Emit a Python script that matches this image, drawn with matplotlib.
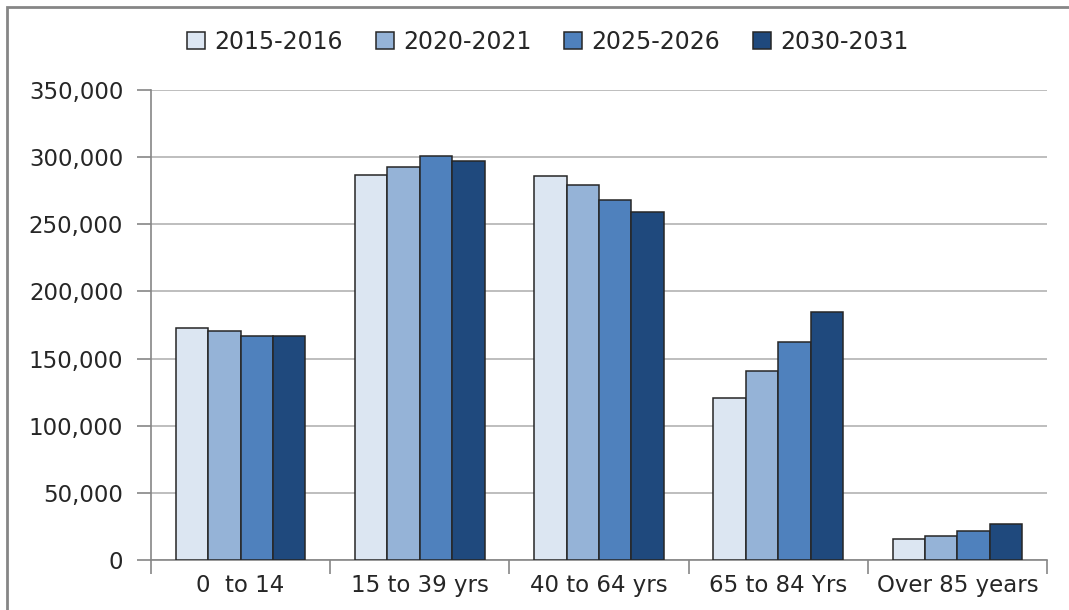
import numpy as np
import matplotlib.pyplot as plt
from matplotlib.patches import Rectangle

# population projections by age group
categories = ['0  to 14', '15 to 39 yrs', '40 to 64 yrs', '65 to 84 Yrs', 'Over 85 years']
periods = ['2015-2016', '2020-2021', '2025-2026', '2030-2031']
v_2015 = [173000, 287000, 286000, 120500, 15500]
v_2020 = [170500, 293000, 279500, 141000, 18000]
v_2025 = [166500, 301000, 268000, 162500, 21500]
v_2030 = [166500, 297000, 259000, 184500, 26500]
colors = ['#DCE6F2', '#95B3D7', '#4F81BD', '#1F497D']

plt.rcParams['font.family'] = ['DejaVu Sans']

fig = plt.figure(figsize=(10.69, 6.10), dpi=100)
ax = fig.add_axes([151 / 1069, 1 - 560 / 610, (1047 - 151) / 1069, (560 - 90) / 610])

# outer chart border (partly cut off like the original)
fig.patches.append(Rectangle((7 / 1069, -0.1), 1.2, 1 - 7 / 610 + 0.1,
                             transform=fig.transFigure, fill=False,
                             edgecolor='#868686', linewidth=2))

x = np.arange(len(categories))
w = 0.181
series = [v_2015, v_2020, v_2025, v_2030]
for i, (vals, lab) in enumerate(zip(series, periods)):
    ax.bar(x + (i - 1.5) * w, vals, width=w, color=colors[i], edgecolor='#262626',
           linewidth=1.1, label=lab, zorder=3)

ax.set_xlim(-0.5, len(categories) - 0.5)
ax.set_ylim(0, 350000)
ax.set_yticks(np.arange(0, 350001, 50000))
ax.set_yticklabels([f'{v:,}' for v in range(0, 350001, 50000)])
ax.yaxis.grid(True, color='#B3B3B3', linewidth=1.2, zorder=0)

ax.set_xticks(x)
ax.set_xticklabels(categories)
ax.set_xticks(np.arange(-0.5, len(categories), 1), minor=True)
ax.tick_params(axis='x', which='major', length=0, pad=10, labelsize=16.5, colors='#262626')
ax.tick_params(axis='x', which='minor', length=10, width=1.2, color='#868686')
ax.tick_params(axis='y', length=10, width=1.2, color='#868686', pad=10, labelsize=16.5,
               labelcolor='#262626')

for s in ['top', 'right']:
    ax.spines[s].set_visible(False)
for s in ['left', 'bottom']:
    ax.spines[s].set_color('#868686')
    ax.spines[s].set_linewidth(1.2)

fig.legend(loc='center', bbox_to_anchor=(548 / 1069, 1 - 42 / 610), ncol=4,
           frameon=False, fontsize=17, handlelength=0.75, handleheight=0.75,
           handletextpad=0.4, columnspacing=1.4, labelcolor='#262626')

fig.savefig('out.png', dpi=100)
